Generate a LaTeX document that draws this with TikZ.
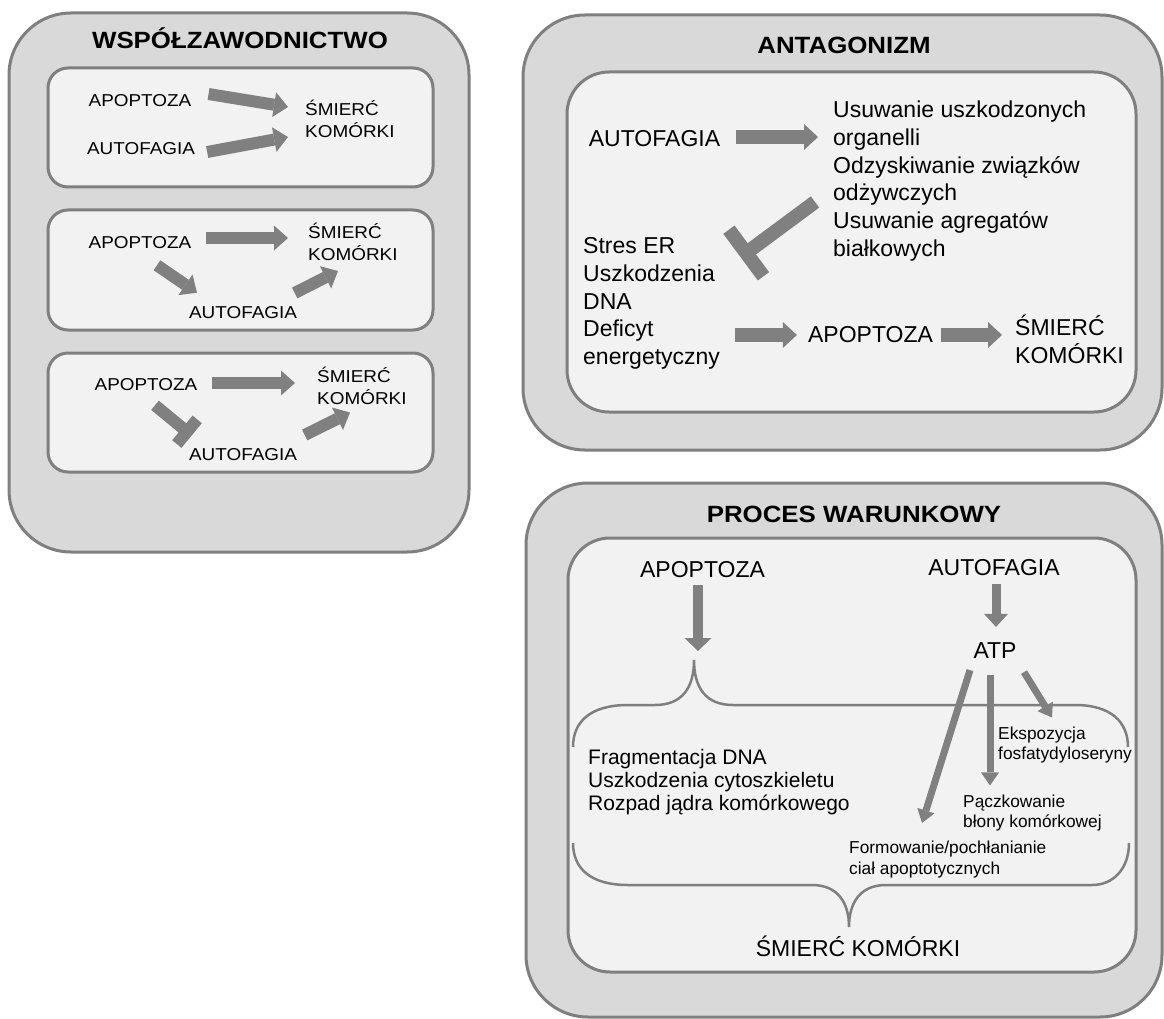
\documentclass[tikz,border=0pt]{standalone}
\usepackage{fontspec}
\setmainfont{Liberation Sans}
\newfontfamily\widefont[FakeStretch=1.1]{Liberation Sans}
\usepackage{xcolor}
\usepackage{tikz}
\usetikzlibrary{arrows.meta, positioning, calc}

\definecolor{panelgray}{HTML}{D9D9D9}
\definecolor{innergray}{HTML}{F2F2F2}
\definecolor{edgegray}{HTML}{7F7F7F}
\definecolor{arrgray}{HTML}{808080}

\begin{document}
\begin{tikzpicture}[
    x=1pt, y=-1pt,
    panel/.style={draw=edgegray, line width=3pt, fill=panelgray, rounded corners=62pt},
    inbox/.style={draw=edgegray, line width=3pt, fill=innergray, rounded corners=#1},
    inbox/.default=42pt,
    title/.style={font=\widefont\fontsize{23.5}{28}\selectfont\bfseries, inner sep=0pt},
    small/.style={font=\widefont\fontsize{17.2}{22}\selectfont, inner sep=0pt, align=left},
    big/.style={font=\fontsize{23}{27.7}\selectfont, inner sep=0pt, align=left},
    mid/.style={font=\fontsize{21}{23.3}\selectfont, inner sep=0pt, align=left},
    note/.style={font=\fontsize{17.3}{20.5}\selectfont, inner sep=0pt, align=left},
    fat/.style={draw=arrgray, line width=12pt, -{Triangle[length=14pt, width=25pt, line width=0pt]}},
    fatter/.style={draw=arrgray, line width=13.5pt, -{Triangle[length=14pt, width=26pt, line width=0pt]}},
    thin/.style={draw=arrgray, line width=7pt, -{Triangle[length=13pt, width=18pt, line width=0pt]}},
    blunt/.style={draw=arrgray, line width=#1},
    curly/.style={draw=edgegray, line width=2.5pt}
]
\fill[white] (0,0) rectangle (1164,1019);
\useasboundingbox (0,0) rectangle (1164,1019);

% Wspolzawodnictwo
\draw[panel] (9,13) rectangle (469,552);
\node[title] (wspT) at (240,38) {WSPÓŁZAWODNICTWO};
\draw[inbox=20pt] (48,68) rectangle (433,187);
\draw[inbox=20pt] (48,210) rectangle (433,330);
\draw[inbox=20pt] (48,353) rectangle (433,472);

\node[small] (apo1) at (140,101) {APOPTOZA};
\node[small] (aut1) at (141,149) {AUTOFAGIA};
\node[small, anchor=west] (sm1) at (305,119) {ŚMIERĆ\\KOMÓRKI};
\draw[fat] ($(apo1.east)+(17,-7)$) -- ($(sm1.west)+(-17,-12)$);
\draw[fat] ($(aut1.east)+(12,3)$) -- ($(sm1.west)+(-17,18)$);

\node[small] (apo2) at (140,243) {APOPTOZA};
\node[small] (aut2) at (243,313) {AUTOFAGIA};
\node[small, anchor=west] (sm2) at (308,242) {ŚMIERĆ\\KOMÓRKI};
\draw[fat] ($(apo2.east)+(14.5,-5)$) -- ($(sm2.west)+(-20,-4)$);
\draw[fat] ($(apo2.south)+(17,16)$) -- ($(aut2.north)+(-46,-14)$);
\draw[fat] ($(aut2.east)+(-2.5,-20)$) -- ($(sm2.south west)+(30,10)$);

\node[small] (apo3) at (146,385) {APOPTOZA};
\node[small] (aut3) at (243,455) {AUTOFAGIA};
\node[small, anchor=west] (sm3) at (317,385.5) {ŚMIERĆ\\KOMÓRKI};
\draw[fat] ($(apo3.east)+(14.5,-2)$) -- ($(sm3.west)+(-22,-2.5)$);
\coordinate (inh3s) at ($(apo3.south)+(9,14)$);
\coordinate (inh3e) at ($(aut3.north)+(-56,-17)$);
\draw[blunt=12pt] (inh3s) -- (inh3e);
\draw[blunt=12pt] ($(inh3e)!16pt!90:(inh3s)$) -- ($(inh3e)!16pt!-90:(inh3s)$);
\draw[fat] ($(aut3.east)+(7.5,-20)$) -- ($(sm3.south west)+(33,8)$);

% Antagonizm
\draw[panel] (523,15) rectangle (1162,450);
\node[title] (antT) at (844,45) {ANTAGONIZM};
\draw[inbox] (567,72) rectangle (1136,412);

\node[big] (autA) at (654.5,138.5) {AUTOFAGIA};
\node[big, anchor=west] (skutki) at (833,181) {Usuwanie uszkodzonych\\organelli\\Odzyskiwanie związków\\odżywczych\\Usuwanie agregatów\\białkowych};
\node[big, anchor=west] (stres) at (583,303.5) {Stres ER\\Uszkodzenia\\DNA\\Deficyt\\energetyczny};
\node[big] (apoA) at (870.5,335) {APOPTOZA};
\node[big, anchor=west] (smA) at (1015,339) {ŚMIERĆ\\KOMÓRKI};

\draw[fatter] ($(autA.east)+(16,-1.5)$) -- ($(skutki.west)+(-15,-44)$);
\coordinate (inhAs) at ($(skutki.west)+(-18,21)$);
\coordinate (inhAe) at ($(stres.east)+(26,-50.5)$);
\draw[blunt=14pt] (inhAs) -- (inhAe);
\draw[blunt=14pt] ($(inhAe)!29pt!90:(inhAs)$) -- ($(inhAe)!29pt!-90:(inhAs)$);
\draw[fatter] ($(stres.east)+(15,31.5)$) -- ($(apoA.west)+(-11,0)$);
\draw[fatter] ($(apoA.east)+(8,0)$) -- ($(smA.west)+(-13,-4)$);

% Proces warunkowy
\draw[panel] (526,483) rectangle (1162,1017);
\node[title] (proT) at (854,514) {PROCES WARUNKOWY};
\draw[inbox] (568,538) rectangle (1136,972);

\node[big] (apoP) at (702.5,570) {APOPTOZA};
\node[big] (autP) at (994,568) {AUTOFAGIA};
\node[big] (atp) at (995,651) {ATP};
\node[mid, anchor=west] (frag) at (588,782) {Fragmentacja DNA\\Uszkodzenia cytoszkieletu\\Rozpad jądra komórkowego};
\node[note, anchor=west] (eksp) at (998,745) {Ekspozycja\\fosfatydyloseryny};
\node[note, anchor=west] (pacz) at (963,813) {Pączkowanie\\błony komórkowej};
\node[note, anchor=west] (form) at (849,859.5) {Formowanie/pochłanianie\\ciał apoptotycznych};
\node[big] (smP) at (858,946) {ŚMIERĆ KOMÓRKI};

% braces
\coordinate (btip) at (694,660);
\draw[curly] (573,747) .. controls (573,722) and (590,705) .. (628,705) -- (655,705)
    .. controls (682,705) and (694,688) .. (btip) .. controls (694,688) and (706,705) .. (733,705)
    -- (1075,705) .. controls (1111,705) and (1128,722) .. (1128,747);
\coordinate (ctip) at (849,927);
\draw[curly] (573,843) .. controls (573,868) and (590,885) .. (628,885) -- (812,885)
    .. controls (838,885) and (849,903) .. (ctip) .. controls (849,903) and (860,885) .. (886,885)
    -- (1092,885) .. controls (1114,885) and (1129,868) .. (1129,843);

\draw[fat, line width=10.5pt, -{Triangle[length=13pt, width=27pt, line width=0pt]}] ($(apoP.south)+(-4.5,7)$) -- ($(btip)+(4,-9)$);
\draw[fat, line width=9pt, -{Triangle[length=13pt, width=24pt, line width=0pt]}] ($(autP.south)+(2,8)$) -- ($(atp.north)+(1,-16)$);
\draw[thin] ($(atp.south)+(-25,11)$) -- ($(form.north west)+(73,-18)$);
\draw[thin] ($(atp.south)+(-5,16)$) -- ($(pacz.north west)+(27,-9)$);
\draw[thin] ($(atp.south)+(29,13)$) -- ($(eksp.north west)+(54,-9)$);

\end{tikzpicture}
\end{document}
